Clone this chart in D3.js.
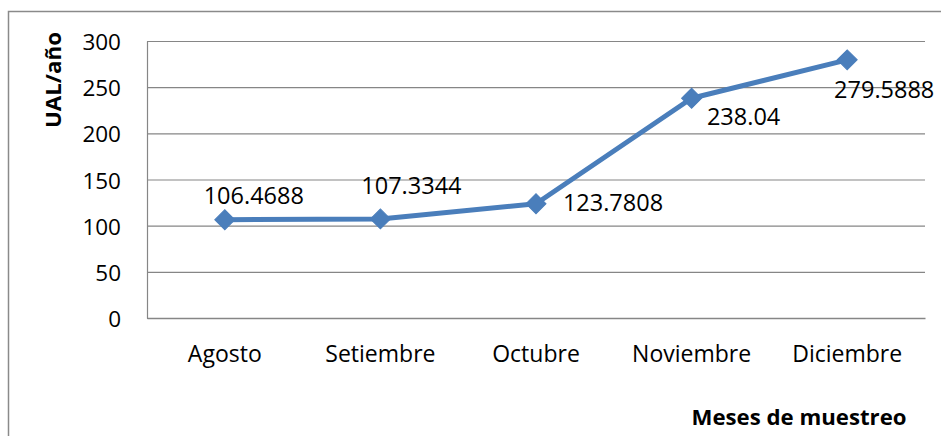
<!DOCTYPE html>
<html>
<head>
<meta charset="utf-8">
<script src="https://cdn.jsdelivr.net/npm/d3@7"></script>
<style>
  html, body { margin: 0; padding: 0; background: #fff; }
  svg { display: block; }
  text { font-family: "Open Sans", sans-serif; fill: #000; }
</style>
</head>
<body>
<svg id="chart" width="941" height="436"></svg>
<script>
// ---- data ----
const categories = ["Agosto", "Setiembre", "Octubre", "Noviembre", "Diciembre"];
const values = [106.4688, 107.3344, 123.7808, 238.04, 279.5888];
const yTicks = [0, 50, 100, 150, 200, 250, 300];
const yTitle = "UAL/año";
const xTitle = "Meses de muestreo";

// ---- layout ----
const W = 941, H = 436;
const plot = { left: 147, right: 925, top: 41, bottom: 318 };
// manual data-label offsets (dx to label centre, dy to baseline) from each marker
const labelOffsets = [[29, -16], [31, -25], [77, 7], [52, 27], [37, 38]];
const lineColor = "#4A7EBB";
const gridColor = "#868686";

const svg = d3.select("#chart");

// outer chart border (extends past the canvas on the right and bottom)
svg.append("rect")
  .attr("x", 8.5).attr("y", 11.5)
  .attr("width", 1200).attr("height", 1200)
  .attr("fill", "#fff")
  .attr("stroke", "#8a8a8a").attr("stroke-width", 1.5);

const x = d3.scaleBand().domain(categories).range([plot.left, plot.right]).padding(0);
const y = d3.scaleLinear().domain([0, 300]).range([plot.bottom, plot.top]);
const cx = c => x(c) + x.bandwidth() / 2;

// y axis with gridlines
const yAxis = svg.append("g")
  .attr("transform", `translate(${plot.left},0)`)
  .call(d3.axisLeft(y).tickValues(yTicks).tickSize(-(plot.right - plot.left)).tickSizeOuter(0).tickPadding(26));
yAxis.selectAll(".tick line").attr("stroke", gridColor).attr("stroke-width", 1.2);
yAxis.select(".domain").attr("stroke", gridColor).attr("stroke-width", 1.2);
yAxis.selectAll(".tick text")
  .style("font-size", "22.5px")
  .attr("dy", "0.38em");

// x axis
const xAxis = svg.append("g")
  .attr("transform", `translate(0,${plot.bottom})`)
  .call(d3.axisBottom(x).tickSize(0).tickSizeOuter(0));
xAxis.select(".domain").attr("stroke", gridColor).attr("stroke-width", 1.5);
xAxis.selectAll(".tick text")
  .style("font-size", "23px")
  .attr("y", 44).attr("dy", 0);

// line
const line = d3.line()
  .x((d, i) => cx(categories[i]))
  .y(d => y(d));
svg.append("path")
  .datum(values)
  .attr("d", line)
  .attr("fill", "none")
  .attr("stroke", lineColor)
  .attr("stroke-width", 5)
  .attr("stroke-linejoin", "round");

// diamond markers
const diamond = d3.symbol().type(d3.symbolSquare).size(200);
svg.append("g").selectAll("path")
  .data(values)
  .join("path")
  .attr("d", diamond)
  .attr("transform", (d, i) => `translate(${cx(categories[i])},${y(d)}) rotate(45)`)
  .attr("fill", lineColor)
  .attr("stroke", lineColor)
  .attr("stroke-width", 1);

// data labels
svg.append("g").selectAll("text")
  .data(values)
  .join("text")
  .attr("x", (d, i) => cx(categories[i]) + labelOffsets[i][0])
  .attr("y", (d, i) => y(d) + labelOffsets[i][1])
  .attr("text-anchor", "middle")
  .style("font-size", "23.5px")
  .text(d => String(d));

// axis titles
svg.append("text")
  .attr("transform", `translate(61,80) rotate(-90)`)
  .attr("text-anchor", "middle")
  .attr("textLength", 96)
  .attr("lengthAdjust", "spacingAndGlyphs")
  .style("font-size", "22px")
  .style("font-weight", "bold")
  .text(yTitle);

svg.append("text")
  .attr("x", 799).attr("y", 425)
  .attr("text-anchor", "middle")
  .attr("textLength", 215)
  .attr("lengthAdjust", "spacingAndGlyphs")
  .style("font-size", "22px")
  .style("font-weight", "bold")
  .text(xTitle);
</script>
</body>
</html>
